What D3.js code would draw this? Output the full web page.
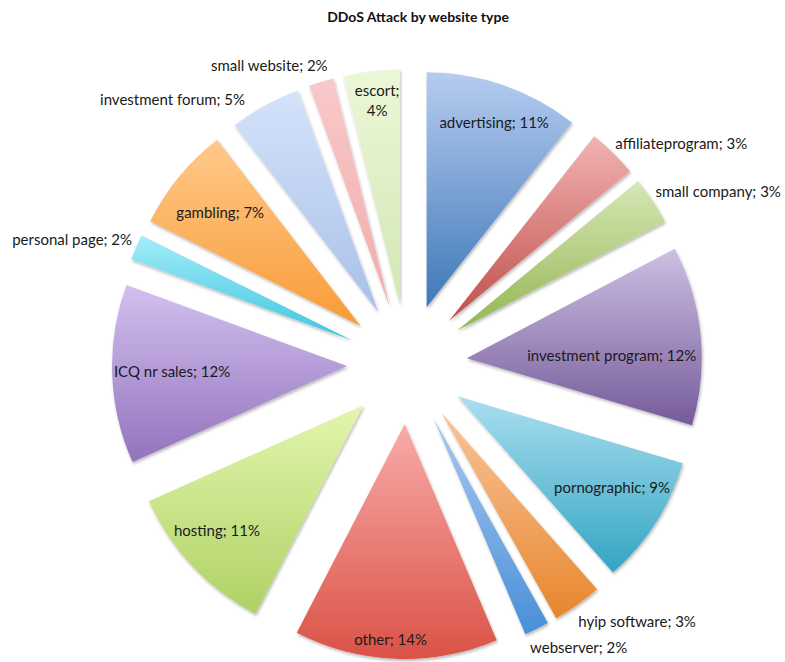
<!DOCTYPE html>
<html>
<head>
<meta charset="utf-8">
<script src="https://cdn.jsdelivr.net/npm/d3@7"></script>
<style>
  body { margin: 0; background: #fff; }
  svg { display: block; }
  .title { font-family: Lato, "Open Sans", sans-serif; font-weight: bold; font-size: 14px; fill: #111; }
  .slice-label { font-family: Lato, "Open Sans", sans-serif; font-size: 15px; fill: #1a1a1a; }
</style>
</head>
<body>
<div id="chart"></div>
<script>
// data (labels show rounded shares)
var categories = ["advertising", "affiliateprogram", "small company", "investment program",
    "pornographic", "hyip software", "webserver", "other", "hosting", "ICQ nr sales",
    "personal page", "gambling", "investment forum", "small website", "escort"];
var shares = [10.6, 3.4, 3.3, 12.3, 8.9, 3.4, 1.7, 14.0, 10.7, 12.3, 1.75, 7.2, 4.9, 1.7, 3.85];
var shownPct = [11, 3, 3, 12, 9, 3, 2, 14, 11, 12, 2, 7, 5, 2, 4];

// gradient stops, top -> bottom
var topColors = ["#b6ccf0", "#f2b3b1", "#d6e7b6", "#cdbfe3", "#aadef0", "#f9c49b", "#a9c9f1",
    "#f9aba8", "#e2f6ad", "#d3c0ef", "#a4ecf8", "#ffc98a", "#d5e3fb", "#f9c9c9", "#ecf7d8"];
var bottomColors = ["#3f78b8", "#bf4f4b", "#93b652", "#755b9a", "#32a5c2", "#e8862c", "#4a8fd8",
    "#da5246", "#afd165", "#9373bd", "#3ec6e0", "#f89c38", "#a8c0e8", "#f2abab", "#d2e8b3"];

// label placement: fraction of radius for inside labels (0 = outside), plus small nudges
var labelRadius = [0.84, 0, 0, 0.62, 0.77, 0, 0, 0.92, 0.84, 0.745, 0, 0.79, 0, 0, 0.87];
var labelNudge = [[3, 2], [-6, 0], [-7, -2], [0, 12], [2, -6], [-6, 7], [-12, 8], [-6, 0],
    [-3, -10], [0, 0], [7, -3], [3, 5], [-14, 5], [10, -5], [2, -1]];

var viewboxwidth = 785, viewboxheight = 662;
var cx = 407, cy = 364;
var radius = 235, explode = 60;

var svg = d3.select("#chart")
    .append("svg")
    .attr("width", viewboxwidth)
    .attr("height", viewboxheight);

var defs = svg.append("defs");

var shadow = defs.append("filter")
    .attr("id", "shadow")
    .attr("x", "-20%").attr("y", "-20%")
    .attr("width", "140%").attr("height", "140%");
shadow.append("feDropShadow")
    .attr("dx", 1).attr("dy", 2)
    .attr("stdDeviation", 1.8)
    .attr("flood-color", "#000")
    .attr("flood-opacity", 0.28);

categories.forEach(function(c, i) {
    var g = defs.append("linearGradient")
        .attr("id", "grad" + i)
        .attr("x1", 0).attr("y1", 0)
        .attr("x2", 0).attr("y2", 1);
    g.append("stop").attr("offset", "0%").attr("stop-color", topColors[i]);
    g.append("stop").attr("offset", "100%").attr("stop-color", bottomColors[i]);
});

svg.append("text")
    .attr("class", "title")
    .attr("x", 418)
    .attr("y", 22)
    .attr("text-anchor", "middle")
    .text("DDoS Attack by website type");

var pie = d3.pie().sort(null).value(function(d) { return d; });
var arc = d3.arc().innerRadius(0).outerRadius(radius);

var arcs = pie(shares);

function midDir(d) {
    var a = (d.startAngle + d.endAngle) / 2;
    return [Math.sin(a), -Math.cos(a)];
}

var chart = svg.append("g")
    .attr("transform", "translate(" + cx + "," + cy + ")");

chart.selectAll("path")
    .data(arcs)
    .enter()
    .append("path")
    .attr("transform", function(d) {
        var u = midDir(d);
        return "translate(" + (u[0] * explode) + "," + (u[1] * explode) + ")";
    })
    .attr("d", arc)
    .style("fill", function(d, i) { return "url(#grad" + i + ")"; })
    .attr("filter", "url(#shadow)");

// labels
chart.selectAll("text.slice-label")
    .data(arcs)
    .enter()
    .append("text")
    .attr("class", "slice-label")
    .each(function(d, i) {
        var u = midDir(d);
        var inside = labelRadius[i] > 0;
        var dist = explode + (inside ? labelRadius[i] * radius : radius + 12);
        var x = u[0] * dist + labelNudge[i][0], y = u[1] * dist + labelNudge[i][1];
        var t = d3.select(this)
            .attr("x", x)
            .attr("y", y)
            .attr("text-anchor", inside ? "middle" : (u[0] >= 0 ? "start" : "end"));
        if (categories[i] == "escort") {
            t.append("tspan").attr("x", x).attr("dy", "-0.3em").text(categories[i] + ";");
            t.append("tspan").attr("x", x).attr("dy", "1.35em").text(shownPct[i] + "%");
        } else {
            t.attr("dy", "0.35em").text(categories[i] + "; " + shownPct[i] + "%");
        }
    });
</script>
</body>
</html>
